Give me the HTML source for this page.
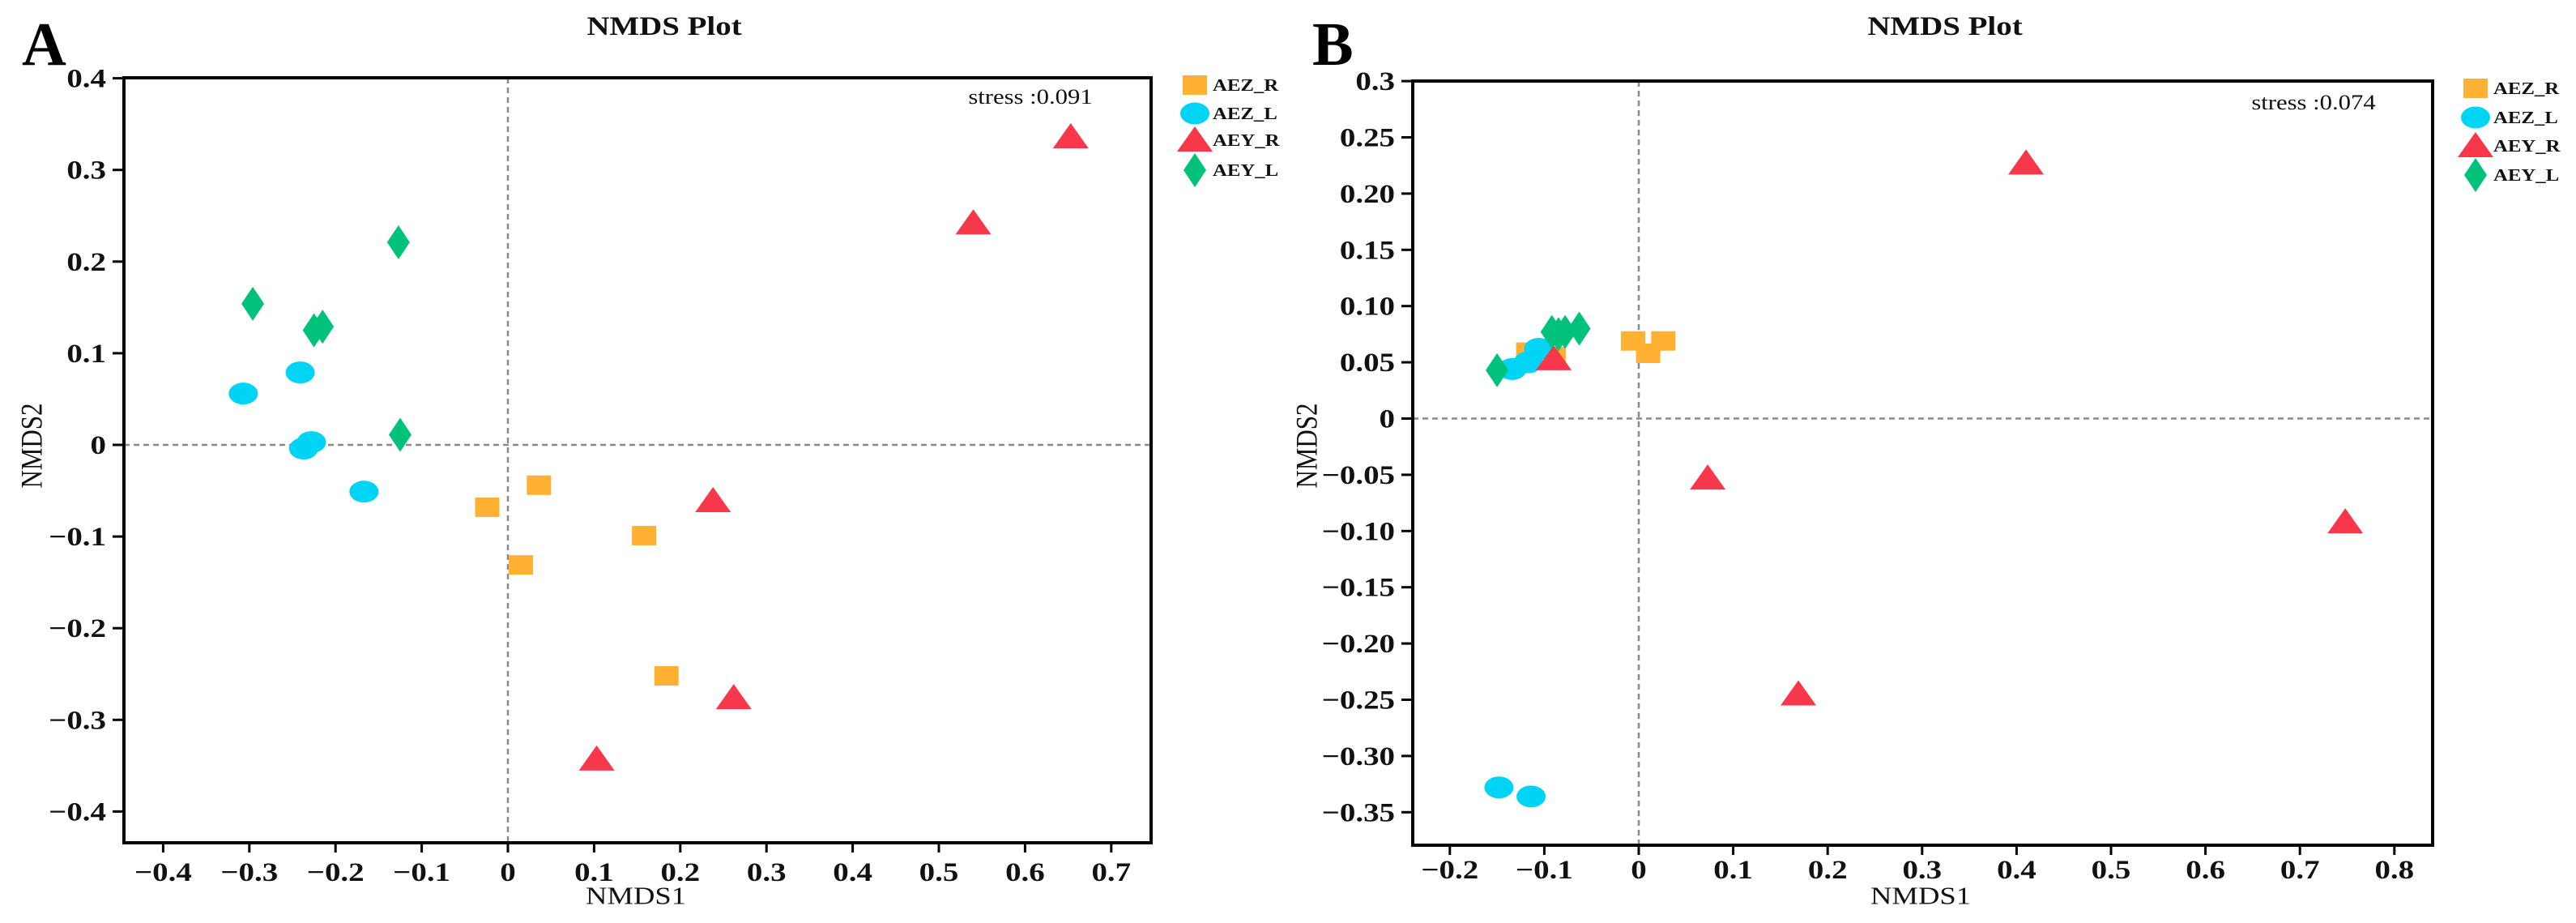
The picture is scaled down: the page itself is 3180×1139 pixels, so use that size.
<!DOCTYPE html>
<html><head><meta charset="utf-8"><style>
html,body{margin:0;padding:0;background:#fff;}
svg{display:block;font-family:"Liberation Serif",serif;}
</style></head><body>
<svg id="fig" width="3180" height="1139" viewBox="0 0 3180 1139"></svg>
<script>
// ---- Panel A data ----
const aAEZ_R_x=[0.036,-0.024,0.015,0.158,0.184];
const aAEZ_R_y=[-0.044,-0.068,-0.131,-0.099,-0.252];
const aAEZ_L_x=[-0.307,-0.241,-0.228,-0.237,-0.167];
const aAEZ_L_y=[0.056,0.079,0.003,-0.004,-0.051];
const aAEY_R_x=[0.653,0.540,0.238,0.262,0.103];
const aAEY_R_y=[0.336,0.242,-0.061,-0.276,-0.343];
const aAEY_L_x=[-0.127,-0.296,-0.225,-0.215,-0.125];
const aAEY_L_y=[0.221,0.154,0.125,0.129,0.011];
const aXTicks=[-0.4,-0.3,-0.2,-0.1,0,0.1,0.2,0.3,0.4,0.5,0.6,0.7];
const aXLabels=["\u22120.4","\u22120.3","\u22120.2","\u22120.1","0","0.1","0.2","0.3","0.4","0.5","0.6","0.7"];
const aYTicks=[0.4,0.3,0.2,0.1,0,-0.1,-0.2,-0.3,-0.4];
const aYLabels=["0.4","0.3","0.2","0.1","0","\u22120.1","\u22120.2","\u22120.3","\u22120.4"];
// ---- Panel B data ----
const bAEZ_R_x=[-0.117,-0.09,-0.006,0.026,0.010];
const bAEZ_R_y=[0.059,0.055,0.069,0.069,0.058];
const bAEZ_L_x=[-0.148,-0.114,-0.134,-0.117,-0.106];
const bAEZ_L_y=[-0.328,-0.336,0.044,0.050,0.062];
const bAEY_R_x=[0.41,0.073,0.748,0.169,-0.09];
const bAEY_R_y=[0.227,-0.053,-0.092,-0.245,0.053];
const bAEY_L_x=[-0.150,-0.092,-0.085,-0.078,-0.063];
const bAEY_L_y=[0.043,0.077,0.075,0.077,0.080];
const bXTicks=[-0.2,-0.1,0,0.1,0.2,0.3,0.4,0.5,0.6,0.7,0.8];
const bXLabels=["\u22120.2","\u22120.1","0","0.1","0.2","0.3","0.4","0.5","0.6","0.7","0.8"];
const bYTicks=[0.3,0.25,0.2,0.15,0.1,0.05,0,-0.05,-0.1,-0.15,-0.2,-0.25,-0.3,-0.35];
const bYLabels=["0.3","0.25","0.20","0.15","0.10","0.05","0","\u22120.05","\u22120.10","\u22120.15","\u22120.20","\u22120.25","\u22120.30","\u22120.35"];
const groups=["AEZ_R","AEZ_L","AEY_R","AEY_L"];
const colors={AEZ_R:"#FFB133",AEZ_L:"#00D4F5",AEY_R:"#F7384B",AEY_L:"#00C27A"};

const NS="http://www.w3.org/2000/svg";
const svg=document.getElementById("fig");
const SX=1.18;
function el(tag,attrs,parent){const e=document.createElementNS(NS,tag);for(const k in attrs)e.setAttribute(k,attrs[k]);(parent||svg).appendChild(e);return e;}
function txt(parent,x,y,s,size,weight,anchor,name,rot){
  const t=el("text",{x:0,y:0,"font-size":size,"font-weight":weight,"text-anchor":anchor,"dominant-baseline":"central",fill:"#111",
    transform:rot?`translate(${x},${y}) rotate(-90) scale(1,${SX})`:`translate(${x},${y}) scale(${SX},1)`},parent);
  t.textContent=s;
  
  
  return t;
}
function marker(parent,g,cx,cy,name){
  let m;
  if(g==="AEZ_R") m=el("rect",{x:cx-15,y:cy-12,width:30,height:24,fill:colors[g]},parent);
  else if(g==="AEZ_L") m=el("ellipse",{cx:cx,cy:cy,rx:18,ry:13.5,fill:colors[g]},parent);
  else if(g==="AEY_R") m=el("polygon",{points:`${cx},${cy-17} ${cx-22},${cy+14} ${cx+22},${cy+14}`,fill:colors[g]},parent);
  else m=el("polygon",{points:`${cx},${cy-21} ${cx+14},${cy} ${cx},${cy+21} ${cx-14},${cy}`,fill:colors[g]},parent);
  
  
  return m;
}
function panel(cfg){
  const g=el("g",{});
  
  
  const sx=v=>cfg.x0+v*cfg.xs, sy=v=>cfg.y0-v*cfg.ys;
  const B=cfg.box;
  const dv=el("line",{x1:sx(0),x2:sx(0),y1:B.t,y2:B.b,stroke:"#8a8a8a","stroke-width":2.5,"stroke-dasharray":"7 5"},g);
  
  
  const dh=el("line",{x1:B.l,x2:B.r,y1:sy(0),y2:sy(0),stroke:"#8a8a8a","stroke-width":2.5,"stroke-dasharray":"7 5"},g);
  
  
  groups.forEach(gr=>{
    const xs=cfg.data[gr][0], ys=cfg.data[gr][1];
    xs.forEach((v,i)=>marker(g,gr,sx(v),sy(ys[i]),'point-'+gr.toLowerCase().replace('_','-')));
  });
  const fr=el("rect",{x:B.l,y:B.t,width:B.r-B.l,height:B.b-B.t,fill:"none",stroke:"#000","stroke-width":4},g);
  
  
  cfg.xt.forEach((v,i)=>{
    const tk=el("line",{x1:sx(v),x2:sx(v),y1:B.b,y2:B.b+12,stroke:"#000","stroke-width":3},g);
    
    
    txt(g,sx(v),cfg.xLabY,cfg.xl[i],33,"bold","middle","x-tick-label");
  });
  cfg.yt.forEach((v,i)=>{
    const tk=el("line",{x1:B.l-14,x2:B.l,y1:sy(v),y2:sy(v),stroke:"#000","stroke-width":3},g);
    
    
    txt(g,B.l-22,sy(v),cfg.yl[i],33,"bold","end","y-tick-label");
  });
  txt(g,cfg.titleX,32,"NMDS Plot",33,"bold","middle","chart-title");
  txt(g,cfg.x1X,1106,"NMDS1",31,"normal","middle","x-axis-title");
  txt(g,cfg.y2X,550,"NMDS2",31,"normal","middle","y-axis-title",true);
  txt(g,cfg.stressX,cfg.stressY,cfg.stress,26,"normal","middle","stress-label");
  const L=el("text",{x:cfg.letterX,y:80,"font-size":76,"font-weight":"bold",fill:"#000"},g);
  L.textContent=cfg.letter;
  
  
  cfg.legY.forEach((yy,i)=>{
    const gr=groups[i];
    const lg=el("g",{},g);
    
    
    marker(lg,gr,cfg.legX,yy,'legend-marker');
    txt(lg,cfg.legX+22,yy,gr,21,"bold","start","legend-label");
  });
}
panel({id:"a",x0:627,xs:1064,y0:549,ys:1131,box:{l:153,r:1421,t:96,b:1040},
  data:{AEZ_R:[aAEZ_R_x,aAEZ_R_y],AEZ_L:[aAEZ_L_x,aAEZ_L_y],AEY_R:[aAEY_R_x,aAEY_R_y],AEY_L:[aAEY_L_x,aAEY_L_y]},
  xt:aXTicks,xl:aXLabels,yt:aYTicks,yl:aYLabels,xLabY:1076,titleX:820,x1X:785,y2X:40,
  stress:"stress :0.091",stressX:1272,stressY:120,letter:"A",letterX:27,legX:1475,legY:[105,140,173,210]});
panel({id:"b",x0:2023,xs:1166,y0:516.5,ys:1388,box:{l:1744,r:3003,t:100,b:1043},
  data:{AEZ_R:[bAEZ_R_x,bAEZ_R_y],AEZ_L:[bAEZ_L_x,bAEZ_L_y],AEY_R:[bAEY_R_x,bAEY_R_y],AEY_L:[bAEY_L_x,bAEY_L_y]},
  xt:bXTicks,xl:bXLabels,yt:bYTicks,yl:bYLabels,xLabY:1073,titleX:2401,x1X:2371,y2X:1614,
  stress:"stress :0.074",stressX:2856,stressY:127,letter:"B",letterX:1620,legX:3056,legY:[109,145,180,216]});
</script>
</body></html>
